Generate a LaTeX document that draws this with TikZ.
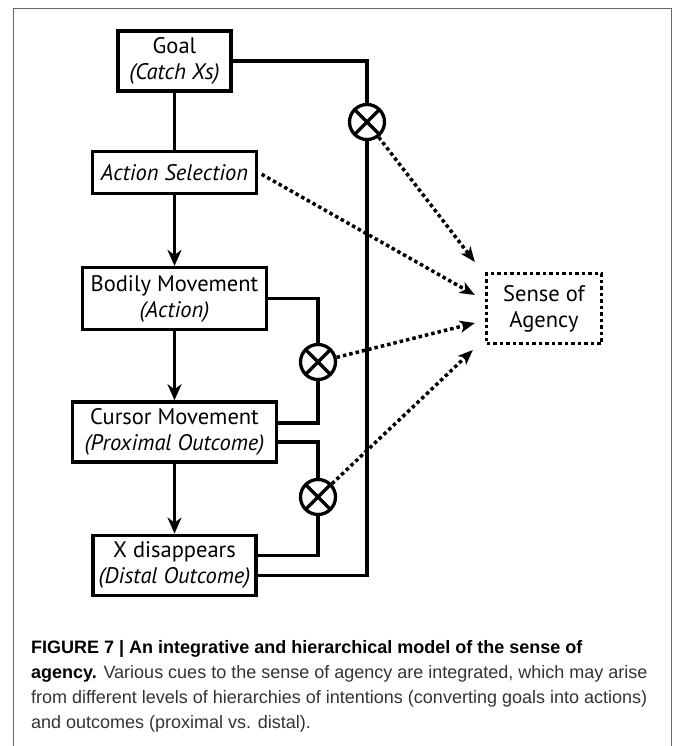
\documentclass[tikz,border=0pt]{standalone}
\usepackage{fontspec}
\setmainfont{PT Sans}
\newfontfamily\capfont{Liberation Sans}
\usetikzlibrary{positioning,arrows.meta}

\tikzset{
  box/.style={draw, line width=3.3pt, align=center, inner sep=0pt,
    minimum height=60pt, font=\fontsize{22.5}{26}\selectfont},
  xcirc/.style={circle, draw, line width=3.3pt, minimum size=35pt, inner sep=0pt,
    path picture={\draw[line width=3.3pt]
      (path picture bounding box.north west) -- (path picture bounding box.south east)
      (path picture bounding box.north east) -- (path picture bounding box.south west);}},
  link/.style={line width=3.2pt},
  flow/.style={line width=3.2pt, -{Stealth[length=16pt,width=14pt,inset=5pt]}},
  cue/.style={line width=3.5pt, dash pattern=on 3.5pt off 3pt,
    -{Stealth[length=15pt,width=12pt,inset=4pt]}},
  frame/.style={line width=1pt, black!60}
}

\begin{document}
\begin{tikzpicture}[x=1pt,y=1pt,node distance=70pt]
  \useasboundingbox (0,0) rectangle (672,-746);
  \draw[frame] (13,-746) -- (13,-9) -- (671,-9) -- (671,-746);

  % hierarchy of intentions and outcomes
  \node[box, minimum width=113pt] (goal) at (174.5,-61) {Goal\\\textit{(Catch Xs)}};
  \node[box, minimum width=164pt, minimum height=42pt, below=57pt of goal] (as) {\textit{Action Selection}};
  \node[box, minimum width=184pt, minimum height=62pt, below=71pt of as] (bm) {Bodily Movement\\\textit{(Action)}};
  \node[box, minimum width=204pt, below=69pt of bm] (cm) {Cursor Movement\\\textit{(Proximal Outcome)}};
  \node[box, minimum width=163pt, below=of cm] (xd) {X disappears\\\textit{(Distal Outcome)}};

  % comparators
  \node[xcirc] (c1) at (367,-122) {};
  \node[xcirc] (c2) at (318,-362) {};
  \node[xcirc] (c3) at (318,-497) {};

  \node[box, dash pattern=on 3.5pt off 3pt, minimum width=115pt, minimum height=70pt] (sa) at (544,-308.5) {Sense of\\Agency};

  \draw[link] (goal) -- (as);
  \draw[flow] (as) -- (bm);
  \draw[flow] (bm) -- (cm);
  \draw[flow] (cm) -- (xd);

  \draw[link] (goal.east) -| (c1);
  \draw[link] (c1) |- ([yshift=-10pt]xd.east);
  \draw[link] (bm.east) -| (c2);
  \draw[link] (c2) |- ([yshift=9pt]cm.east);
  \draw[link] ([yshift=-10pt]cm.east) -| (c3);
  \draw[link] (c3) |- ([yshift=10pt]xd.east);

  % cues to the sense of agency
  \draw[cue] (c1) -- ([shift={(-10pt,46.5pt)}]sa.west);
  \draw[cue, shorten <=4pt] (as.east) -- ([shift={(-10pt,13.5pt)}]sa.west);
  \draw[cue] (c2) -- ([shift={(-10pt,-14.5pt)}]sa.west);
  \draw[cue] (c3) -- ([shift={(-12pt,-41.5pt)}]sa.west);

  \node[anchor=base west, align=left, inner sep=0pt, text=black!80,
    font=\capfont\fontsize{18}{25}\selectfont] (cap) at (31,-728)
    {\textbf{\color{black}FIGURE 7 | An integrative and hierarchical model of the sense of}\\
     \textbf{\color{black}agency.} Various cues to the sense of agency are integrated, which may arise\\
     from different levels of hierarchies of intentions (converting goals into actions)\\
     and outcomes (proximal vs. distal).};
\end{tikzpicture}
\end{document}
